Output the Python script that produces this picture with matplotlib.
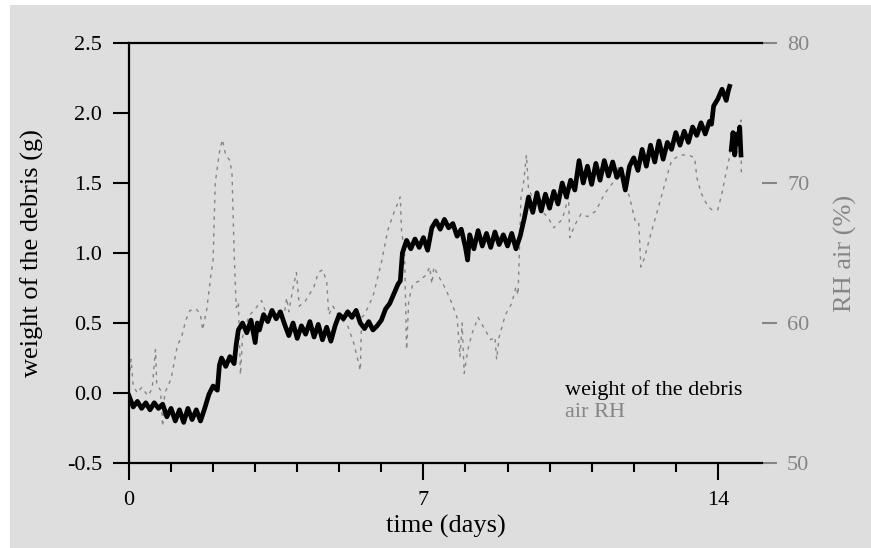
import matplotlib.pyplot as plt
from matplotlib.patches import Rectangle

# debris weight (g), logged continuously
weight_day = [0.0, 0.1, 0.2, 0.3, 0.4, 0.5, 0.6, 0.7, 0.8, 0.9,
              1.0, 1.1, 1.2, 1.3, 1.4, 1.5, 1.6, 1.7, 1.8, 1.9,
              2.0, 2.1, 2.15, 2.2, 2.3, 2.4, 2.5, 2.55, 2.6, 2.7,
              2.8, 2.9, 3.0, 3.05, 3.1, 3.2, 3.3, 3.4, 3.5, 3.6,
              3.7, 3.8, 3.9, 4.0, 4.1, 4.2, 4.3, 4.4, 4.5, 4.6,
              4.7, 4.8, 4.9, 5.0, 5.1, 5.2, 5.3, 5.4, 5.5, 5.6,
              5.7, 5.8, 5.9, 6.0, 6.1, 6.2, 6.3, 6.4, 6.45, 6.5,
              6.6, 6.7, 6.8, 6.9, 7.0, 7.1, 7.2, 7.3, 7.4, 7.5,
              7.6, 7.7, 7.8, 7.9, 8.0, 8.05, 8.1, 8.2, 8.3, 8.4,
              8.5, 8.6, 8.7, 8.8, 8.9, 9.0, 9.1, 9.2, 9.3, 9.4,
              9.5, 9.6, 9.7, 9.8, 9.9, 10.0, 10.1, 10.2, 10.3, 10.4,
              10.5, 10.6, 10.7, 10.8, 10.9, 11.0, 11.1, 11.2, 11.3, 11.4,
              11.5, 11.6, 11.7, 11.8, 11.9, 12.0, 12.1, 12.2, 12.3, 12.4,
              12.5, 12.6, 12.7, 12.8, 12.9, 13.0, 13.1, 13.2, 13.3, 13.4,
              13.5, 13.6, 13.7, 13.8, 13.85, 13.9, 14.0, 14.1, 14.2, 14.25,
              14.28]
weight_g = [-0.02, -0.10, -0.06, -0.11, -0.07, -0.12, -0.07, -0.11, -0.08, -0.17,
            -0.11, -0.20, -0.12, -0.21, -0.11, -0.19, -0.12, -0.20, -0.11, -0.01,
            0.05, 0.02, 0.20, 0.25, 0.19, 0.26, 0.21, 0.35, 0.45, 0.50,
            0.43, 0.52, 0.36, 0.50, 0.45, 0.56, 0.51, 0.59, 0.53, 0.58,
            0.49, 0.41, 0.50, 0.39, 0.48, 0.42, 0.51, 0.40, 0.49, 0.38,
            0.47, 0.37, 0.48, 0.56, 0.53, 0.58, 0.54, 0.59, 0.50, 0.46,
            0.51, 0.45, 0.48, 0.52, 0.60, 0.64, 0.71, 0.78, 0.80, 1.00,
            1.09, 1.03, 1.10, 1.04, 1.11, 1.02, 1.18, 1.23, 1.17, 1.24,
            1.18, 1.21, 1.12, 1.17, 1.04, 0.95, 1.13, 1.03, 1.16, 1.05,
            1.14, 1.04, 1.15, 1.06, 1.13, 1.05, 1.14, 1.03, 1.12, 1.25,
            1.40, 1.29, 1.43, 1.30, 1.42, 1.32, 1.44, 1.35, 1.50, 1.40,
            1.52, 1.45, 1.66, 1.50, 1.62, 1.49, 1.64, 1.52, 1.66, 1.55,
            1.65, 1.54, 1.60, 1.45, 1.62, 1.68, 1.59, 1.74, 1.62, 1.77,
            1.65, 1.80, 1.67, 1.79, 1.74, 1.86, 1.77, 1.87, 1.79, 1.90,
            1.84, 1.93, 1.85, 1.94, 1.92, 2.05, 2.10, 2.17, 2.09, 2.16,
            2.19]

# last short stretch after the gap
weight_day_end = [14.32, 14.36, 14.40, 14.44, 14.48, 14.52, 14.55]
weight_g_end = [1.74, 1.86, 1.70, 1.85, 1.78, 1.90, 1.70]

# relative humidity of the air (%)
rh_day = [0.0, 0.05, 0.1, 0.2, 0.3, 0.45, 0.55, 0.63, 0.66, 0.75,
          0.8, 0.85, 1.0, 1.15, 1.25, 1.35, 1.45, 1.6, 1.7, 1.75,
          1.85, 1.95, 2.0, 2.05, 2.15, 2.22, 2.3, 2.4, 2.45, 2.5,
          2.55, 2.6, 2.65, 2.7, 2.85, 3.0, 3.15, 3.25, 3.5, 3.7,
          3.75, 3.8, 3.9, 3.98, 4.05, 4.2, 4.4, 4.5, 4.6, 4.7,
          4.75, 4.85, 5.0, 5.2, 5.35, 5.5, 5.53, 5.6, 5.8, 6.0,
          6.15, 6.3, 6.45, 6.48, 6.55, 6.6, 6.65, 6.75, 6.9, 7.05,
          7.15, 7.2, 7.25, 7.35, 7.5, 7.65, 7.8, 7.87, 7.92, 7.97,
          8.05, 8.15, 8.3, 8.45, 8.6, 8.7, 8.74, 8.8, 8.95, 9.1,
          9.2, 9.25, 9.32, 9.38, 9.45, 9.5, 9.6, 9.8, 9.95, 10.1,
          10.3, 10.45, 10.48, 10.6, 10.75, 10.9, 11.1, 11.3, 11.5, 11.65,
          11.75, 11.9, 12.05, 12.12, 12.17, 12.25, 12.4, 12.6, 12.8, 12.9,
          13.1, 13.3, 13.45, 13.5, 13.6, 13.75, 13.85, 14.0, 14.1, 14.2,
          14.28, 14.35, 14.45, 14.5, 14.55, 14.56]
rh_pct = [56.0, 57.4, 55.5, 55.0, 55.4, 54.8, 55.3, 58.1, 55.6, 55.2,
          52.6, 55.0, 56.0, 58.4, 59.0, 60.2, 60.9, 61.0, 60.6, 59.5,
          61.0, 63.5, 64.5, 70.0, 72.2, 73.1, 72.0, 71.6, 70.6, 65.0,
          61.1, 61.5, 56.3, 59.0, 60.5, 61.0, 61.6, 60.8, 60.9, 60.8,
          61.8, 60.8, 62.5, 63.6, 61.2, 61.6, 62.6, 63.6, 63.8, 63.0,
          60.6, 61.2, 60.4, 59.8, 58.5, 56.6, 60.4, 60.6, 61.9, 64.3,
          66.6, 67.9, 69.0, 66.6, 65.0, 58.1, 61.6, 62.8, 63.0, 63.4,
          64.0, 62.8, 64.0, 63.4, 62.6, 61.6, 60.4, 57.6, 60.0, 56.4,
          58.0, 59.2, 60.4, 59.6, 58.8, 59.0, 57.4, 59.0, 60.6, 61.4,
          62.6, 62.0, 69.0, 70.0, 72.0, 69.5, 69.0, 68.0, 67.6, 66.8,
          67.4, 69.0, 66.1, 67.0, 67.8, 67.6, 68.0, 69.2, 70.0, 71.2,
          70.4, 69.0, 67.1, 67.1, 64.0, 64.6, 66.3, 68.4, 70.6, 71.6,
          72.0, 72.0, 71.8, 70.4, 69.3, 68.4, 68.1, 68.1, 69.3, 70.8,
          71.9, 73.5, 72.0, 73.0, 74.5, 70.4]

bg = '#dedede'
rh_color = '#858585'
plt.rcParams['font.family'] = ['Liberation Serif', 'DejaVu Serif']

fig = plt.figure(figsize=(8.71, 5.48), dpi=100, facecolor='white')
fig.patches.append(Rectangle((10 / 871, 0), 1, 1 - 5 / 548, transform=fig.transFigure,
                             facecolor=bg, edgecolor='none', zorder=-10))

ax = fig.add_axes([129 / 871, 85 / 548, 633 / 871, 420 / 548])
ax2 = ax.twinx()
ax.set_zorder(ax2.get_zorder() + 1)
ax.patch.set_visible(False)
ax2.patch.set_visible(False)

ax2.plot(rh_day, rh_pct, color=rh_color, lw=1.0, linestyle=(0, (2.5, 3.5)))
ax.plot(weight_day, weight_g, color='black', lw=3.4)
ax.plot(weight_day_end, weight_g_end, color='black', lw=3.4)

ax.set_xlim(0, 15.05)
ax.set_ylim(-0.5, 2.5)
ax2.set_ylim(50, 80)

ax.set_xticks([0, 7, 14])
ax.set_xticks([1, 2, 3, 4, 5, 6, 8, 9, 10, 11, 12, 13], minor=True)
ax.set_yticks([-0.5, 0.0, 0.5, 1.0, 1.5, 2.0, 2.5])
ax.set_yticklabels(['-0.5', '0.0', '0.5', '1.0', '1.5', '2.0', '2.5'])
ax2.set_yticks([50, 60, 70, 80])

ax.tick_params(axis='x', which='major', length=12, width=1.5, pad=8, labelsize=16)
ax.tick_params(axis='x', which='minor', length=6.5, width=1.5)
ax.tick_params(axis='y', length=11.5, width=1.5, pad=8, labelsize=16)
ax.tick_params(right=False)
ax2.tick_params(axis='y', length=11, width=1.5, pad=7, labelsize=16,
                color=rh_color, labelcolor=rh_color)

for side in ['left', 'bottom', 'top']:
    ax.spines[side].set_linewidth(1.6)
ax.spines['right'].set_visible(False)
for side in ax2.spines:
    ax2.spines[side].set_visible(False)

ax.set_xlabel('time (days)', fontsize=19, labelpad=4)
ax.set_ylabel('weight of the debris (g)', fontsize=19, labelpad=16)
ax2.set_ylabel('RH air (%)', fontsize=19, color=rh_color, labelpad=18)

ax.text(0.689, 0.174, 'weight of the debris', transform=ax.transAxes,
        fontsize=16, color='black', va='center')
ax.text(0.689, 0.121, 'air RH', transform=ax.transAxes,
        fontsize=16, color=rh_color, va='center')

plt.savefig('out.png', dpi=100, facecolor=fig.get_facecolor())
